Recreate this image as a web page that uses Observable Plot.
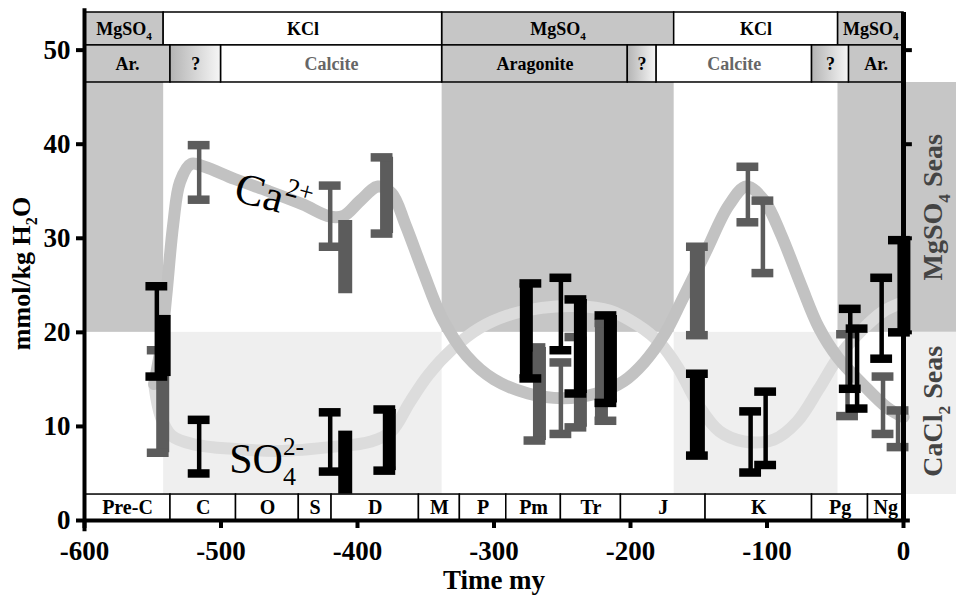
<!DOCTYPE html>
<html><head><meta charset="utf-8">
<script src="https://cdn.jsdelivr.net/npm/d3@7"></script>
<script src="https://cdn.jsdelivr.net/npm/@observablehq/plot@0.6"></script>
<style>
html,body{margin:0;padding:0;background:#fff;}
#chart svg g[aria-label^="x-axis"] path, #chart svg g[aria-label^="x-axis"] line,
#chart svg g[aria-label^="y-axis"] path, #chart svg g[aria-label^="y-axis"] line {stroke-width:4px;}
</style>
</head><body><div id="chart"></div>
<script>
// ---------------- data ----------------
const timeTicks = [-600, -500, -400, -300, -200, -100, 0];
const concTicks = [0, 10, 20, 30, 40, 50];

const periodNames  = ["Pre-C","C","O","S","D","M","P","Pm","Tr","J","K","Pg","Ng"];
const periodBounds = [-600,-537,-489,-443,-419,-355,-325,-291,-251,-207,-145,-67,-26,0];

const evaporiteNames  = ["MgSO_{4}","KCl","MgSO_{4}","KCl","MgSO_{4}"];
const evaporiteBounds = [-600,-542,-338,-168,-48,0];

const mineralNames  = ["Ar.","?","Calcite","Aragonite","?","Calcite","?","Ar."];
const mineralBounds = [-600,-537,-500,-338,-202,-181,-67,-40,0];

const mgso4SeaIntervals = [[-600,-542],[-338,-168],[-48,0]];
const cacl2SeaIntervals = [[-542,-338],[-168,-48]];

// smoothed trend curves [time, mmol/kg]
const caCurve = [[-549,14.5],[-544,18.5],[-540,24],[-535,31.5],[-530,36],[-522,37.9],[-512,37.6],[-490,36.3],
  [-465,35.0],[-440,33.6],[-420,32.3],[-410,32.4],[-398,34.0],[-385,35.5],[-375,34.8],[-365,31.5],[-352,26.5],
  [-338,21.5],[-320,17.5],[-300,15.0],[-275,13.5],[-250,13.0],[-225,13.5],[-205,14.8],[-190,16.8],[-175,19.8],
  [-162,23.5],[-145,28.5],[-128,33.5],[-115,35.5],[-102,34],[-90,30.5],[-75,25],[-62,20.5],[-48,17.3],
  [-30,14.5],[-12,12],[0,11]];
const so4Curve = [[-549,14.5],[-544,11],[-536,9],[-520,8.1],[-490,7.6],[-455,7.4],[-420,7.8],[-390,8.4],
  [-375,9.5],[-362,12.5],[-348,15.5],[-330,18.3],[-310,20.5],[-290,21.8],[-265,22.6],[-240,22.8],[-215,22.3],
  [-195,20.8],[-178,18.8],[-165,16.2],[-150,12.2],[-135,9.5],[-117,8.4],[-95,8.6],[-78,10.5],[-62,14],
  [-48,17.3],[-30,20.3],[-15,22.2],[0,23.2]];

// fluid-inclusion ranges [time, low, high]
const caIBeams   = [[-516,34.1,39.9],[-420,29.1,35.6],[-251,9.2,16.8],[-114,31.7,37.6],[-103,26.3,34],
                    [-41,11.1,19.8],[-15,9.2,15.3],[-4,7.8,11.7]];
const caBars     = [[-409,24.1,31.9]];
const caFat      = [[-151,19.7,29.1]];
const caRight    = [[-382,30.5,38.6],[-546,7.2,18.1],[-270,8.5,18.4],[-240,9.9,19.5]];
const caLeft     = [[-218,10.6,21]];

const so4IBeams  = [[-547,15.3,24.9],[-516,5,10.7],[-420,5.2,11.5],[-251,18.1,25.8],[-112,5.1,11.6],
                    [-101,5.9,13.7],[-39,14,22.5],[-34,11.9,20.4],[-16,17.2,25.8]];
const so4Bars    = [[-409,2.8,9.5],[-542,15.3,21.8]];
const so4Fat     = [[-151,6.9,15.6]];
const so4Right   = [[-380,5.3,11.8],[-240,13.5,23.5],[-218,12.5,21.8],[-3,20,29.8]];
const so4Left    = [[-273,15.1,25.2]];

const curveLabels = [
  {t: -489, v: 35.5, text: "Ca^{2+}", rotate: 15, size: 44},
  {t: -494, v: 6.5, text: "SO_{4}^{2-}", rotate: 0, size: 42}
];
const seaLabels = [
  {t: 22, v: 33.3, text: "MgSO_{4} Seas"},
  {t: 22, v: 11.6, text: "CaCl_{2} Seas"}
];

// ---------------- layout / style ----------------
const GRAY = "#c6c6c6", LIGHT = "#efefef", CA_COLOR = "#5c5c5c", SO4_COLOR = "#000";
const FONT = "'Liberation Serif', 'Times New Roman', serif";
const L = {top: 54, evapBottom: 50.5, mineralBottom: 46.56, periodTop: 2.76, seaSplit: 20, rightEdge: 39};

const cells = (names, bounds) => names.map((name, i) => ({name, x1: bounds[i], x2: bounds[i + 1]}));
const evapCells = cells(evaporiteNames, evaporiteBounds);
const mineralCells = cells(mineralNames, mineralBounds);
const periodCells = cells(periodNames, periodBounds);
const mid = d => (d.x1 + d.x2) / 2;

function errorBars(list, shape, color) {
  const stemW = {I: 4.5, bar: 14, fat: 15, right: 13, left: 13}[shape];
  const dx = shape === "right" ? 4.5 : shape === "left" ? -4.5 : 0;
  const marks = [Plot.ruleX(list, {x: d => d[0], y1: d => d[1], y2: d => d[2], stroke: color, strokeWidth: stemW, dx})];
  if (shape !== "bar") {
    const ends = list.flatMap(d => [[d[0], d[1]], [d[0], d[2]]]);
    marks.push(Plot.ruleY(ends, {y: d => d[1], x1: d => d[0] - 8, x2: d => d[0] + 8, stroke: color, strokeWidth: 8.5}));
  }
  return marks;
}

const rowRect = (data, y1, y2, fill) => Plot.rect(data, {x1: "x1", x2: "x2", y1, y2, fill, stroke: "black", strokeWidth: 1.5});

const chart = Plot.plot({
  width: 956, height: 596,
  marginLeft: 84, marginRight: 53, marginTop: 12, marginBottom: 76,
  style: {fontFamily: FONT, fontSize: "27px", fontWeight: "bold", color: "black", background: "white", overflow: "visible"},
  x: {domain: [-600, 0], ticks: timeTicks, tickSize: 8, tickPadding: 12, tickFormat: d => d === 0 ? "0" : "-" + Math.abs(d), label: null},
  y: {domain: [0, 54], ticks: concTicks, tickSize: 8, tickPadding: 6, label: null},
  marks: [
    // sea-type shading
    Plot.rect(mgso4SeaIntervals, {x1: d => d[0], x2: d => d[1], y1: L.seaSplit, y2: L.top, fill: GRAY}),
    Plot.rect(cacl2SeaIntervals, {x1: d => d[0], x2: d => d[1], y1: L.periodTop, y2: L.seaSplit, fill: LIGHT}),
    Plot.rect([0], {x1: 0, x2: L.rightEdge, y1: L.seaSplit, y2: L.mineralBottom, fill: GRAY}),
    Plot.rect([0], {x1: 0, x2: L.rightEdge, y1: L.periodTop, y2: L.seaSplit, fill: LIGHT}),
    // trend curves
    Plot.line(so4Curve, {x: d => d[0], y: d => d[1], curve: "catmull-rom", stroke: "#dcdcdc", strokeWidth: 12}),
    Plot.line(caCurve, {x: d => d[0], y: d => d[1], curve: "catmull-rom", stroke: "#c2c2c2", strokeWidth: 12}),
    // Ca ranges
    ...errorBars(caIBeams, "I", CA_COLOR),
    ...errorBars(caBars, "bar", CA_COLOR),
    ...errorBars(caFat, "fat", CA_COLOR),
    ...errorBars(caRight, "right", CA_COLOR),
    ...errorBars(caLeft, "left", CA_COLOR),
    // SO4 ranges
    ...errorBars(so4IBeams, "I", SO4_COLOR),
    ...errorBars(so4Bars, "bar", SO4_COLOR),
    ...errorBars(so4Fat, "fat", SO4_COLOR),
    ...errorBars(so4Right, "right", SO4_COLOR),
    ...errorBars(so4Left, "left", SO4_COLOR),
    // evaporite row
    rowRect(evapCells.filter(d => d.name.startsWith("MgSO")), L.evapBottom, L.top, GRAY),
    rowRect(evapCells.filter(d => !d.name.startsWith("MgSO")), L.evapBottom, L.top, "white"),
    Plot.text(evapCells, {x: mid, y: (L.top + L.evapBottom) / 2, text: "name", fontSize: 18, fontWeight: "bold", fontFamily: FONT, fill: "black"}),
    // mineralogy row
    rowRect(mineralCells.filter(d => d.name === "Ar." || d.name === "Aragonite"), L.mineralBottom, L.evapBottom, GRAY),
    rowRect(mineralCells.filter(d => d.name === "Calcite"), L.mineralBottom, L.evapBottom, "white"),
    rowRect(mineralCells.filter(d => d.name === "?"), L.mineralBottom, L.evapBottom, "url(#qgrad)"),
    Plot.text(mineralCells.filter(d => d.name !== "Calcite"), {x: mid, y: (L.evapBottom + L.mineralBottom) / 2, text: "name", fontSize: 18, fontWeight: "bold", fontFamily: FONT, fill: "black"}),
    Plot.text(mineralCells.filter(d => d.name === "Calcite"), {x: mid, y: (L.evapBottom + L.mineralBottom) / 2, text: "name", fontSize: 18, fontWeight: "bold", fontFamily: FONT, fill: "#666"}),
    // period row
    rowRect(periodCells, 0, L.periodTop, "white"),
    Plot.text(periodCells, {x: mid, y: L.periodTop / 2, text: "name", fontSize: 20, fontWeight: "bold", fontFamily: FONT, fill: "black"}),
    // frame
    Plot.ruleX([-600], {y1: -1.2, y2: L.top + 0.4, stroke: "black", strokeWidth: 4}),
    Plot.ruleY([0], {x1: -600, x2: 5, stroke: "black", strokeWidth: 4}),
    Plot.ruleX([0], {y1: 0, y2: L.top, stroke: "black", strokeWidth: 5}),
    Plot.ruleY([20, 30, 40, 50], {x1: 0, x2: 6.5, stroke: "black", strokeWidth: 4}),
    // labels
    Plot.text(curveLabels, {x: "t", y: "v", text: "text", rotate: "rotate", fontSize: d => d.size, fontWeight: "normal", fontFamily: FONT, textAnchor: "start", fill: "black"}),
    Plot.text(seaLabels, {x: "t", y: "v", text: "text", rotate: -90, fontSize: 28, fontWeight: "bold", fontFamily: FONT, fill: "#444"}),
    Plot.text(["Time my"], {frameAnchor: "bottom", dy: 60, text: d => d, textAnchor: "middle", lineAnchor: "middle", fontSize: 27, fontWeight: "bold", fontFamily: FONT, fill: "black"}),
    Plot.text(["mmol/kg H_{2}O"], {frameAnchor: "left", dx: -63, dy: 7, rotate: -90, text: d => d, textAnchor: "middle", lineAnchor: "middle", fontSize: 26, fontWeight: "bold", fontFamily: FONT, fill: "black"})
  ]
});

document.getElementById("chart").append(chart);

// gradient for uncertain mineralogy cells
const NS = "http://www.w3.org/2000/svg";
const svg = chart.tagName.toLowerCase() === "svg" ? chart : chart.querySelector("svg");
const defs = document.createElementNS(NS, "defs");
defs.innerHTML = '<linearGradient id="qgrad" x1="0" x2="1" y1="0" y2="0"><stop offset="0" stop-color="#b4b4b4"/><stop offset="1" stop-color="#f6f6f6"/></linearGradient>';
svg.insertBefore(defs, svg.firstChild);

// subscripts / superscripts
svg.querySelectorAll("text").forEach(el => {
  const s = el.textContent;
  if (!/[_^]\{/.test(s) || el.querySelector("tspan")) return;
  const fs = parseFloat(getComputedStyle(el).fontSize);
  const parts = [...s.matchAll(/([_^])\{([^}]*)\}|([^_^]+)/g)];
  el.textContent = "";
  let shift = 0, prevSubW = 0, prevWasSub = false;
  for (const m of parts) {
    const t = document.createElementNS(NS, "tspan");
    let target = 0;
    if (m[1] === "_") { target = 0.28 * fs; t.setAttribute("font-size", 0.62 * fs); t.textContent = m[2]; }
    else if (m[1] === "^") { target = -0.42 * fs; t.setAttribute("font-size", 0.6 * fs); t.textContent = m[2]; if (prevWasSub) t.setAttribute("dx", -prevSubW); }
    else { t.textContent = m[3]; }
    t.setAttribute("dy", target - shift);
    shift = target;
    el.appendChild(t);
    prevWasSub = m[1] === "_";
    if (prevWasSub) prevSubW = t.getComputedTextLength();
  }
});
</script></body></html>
